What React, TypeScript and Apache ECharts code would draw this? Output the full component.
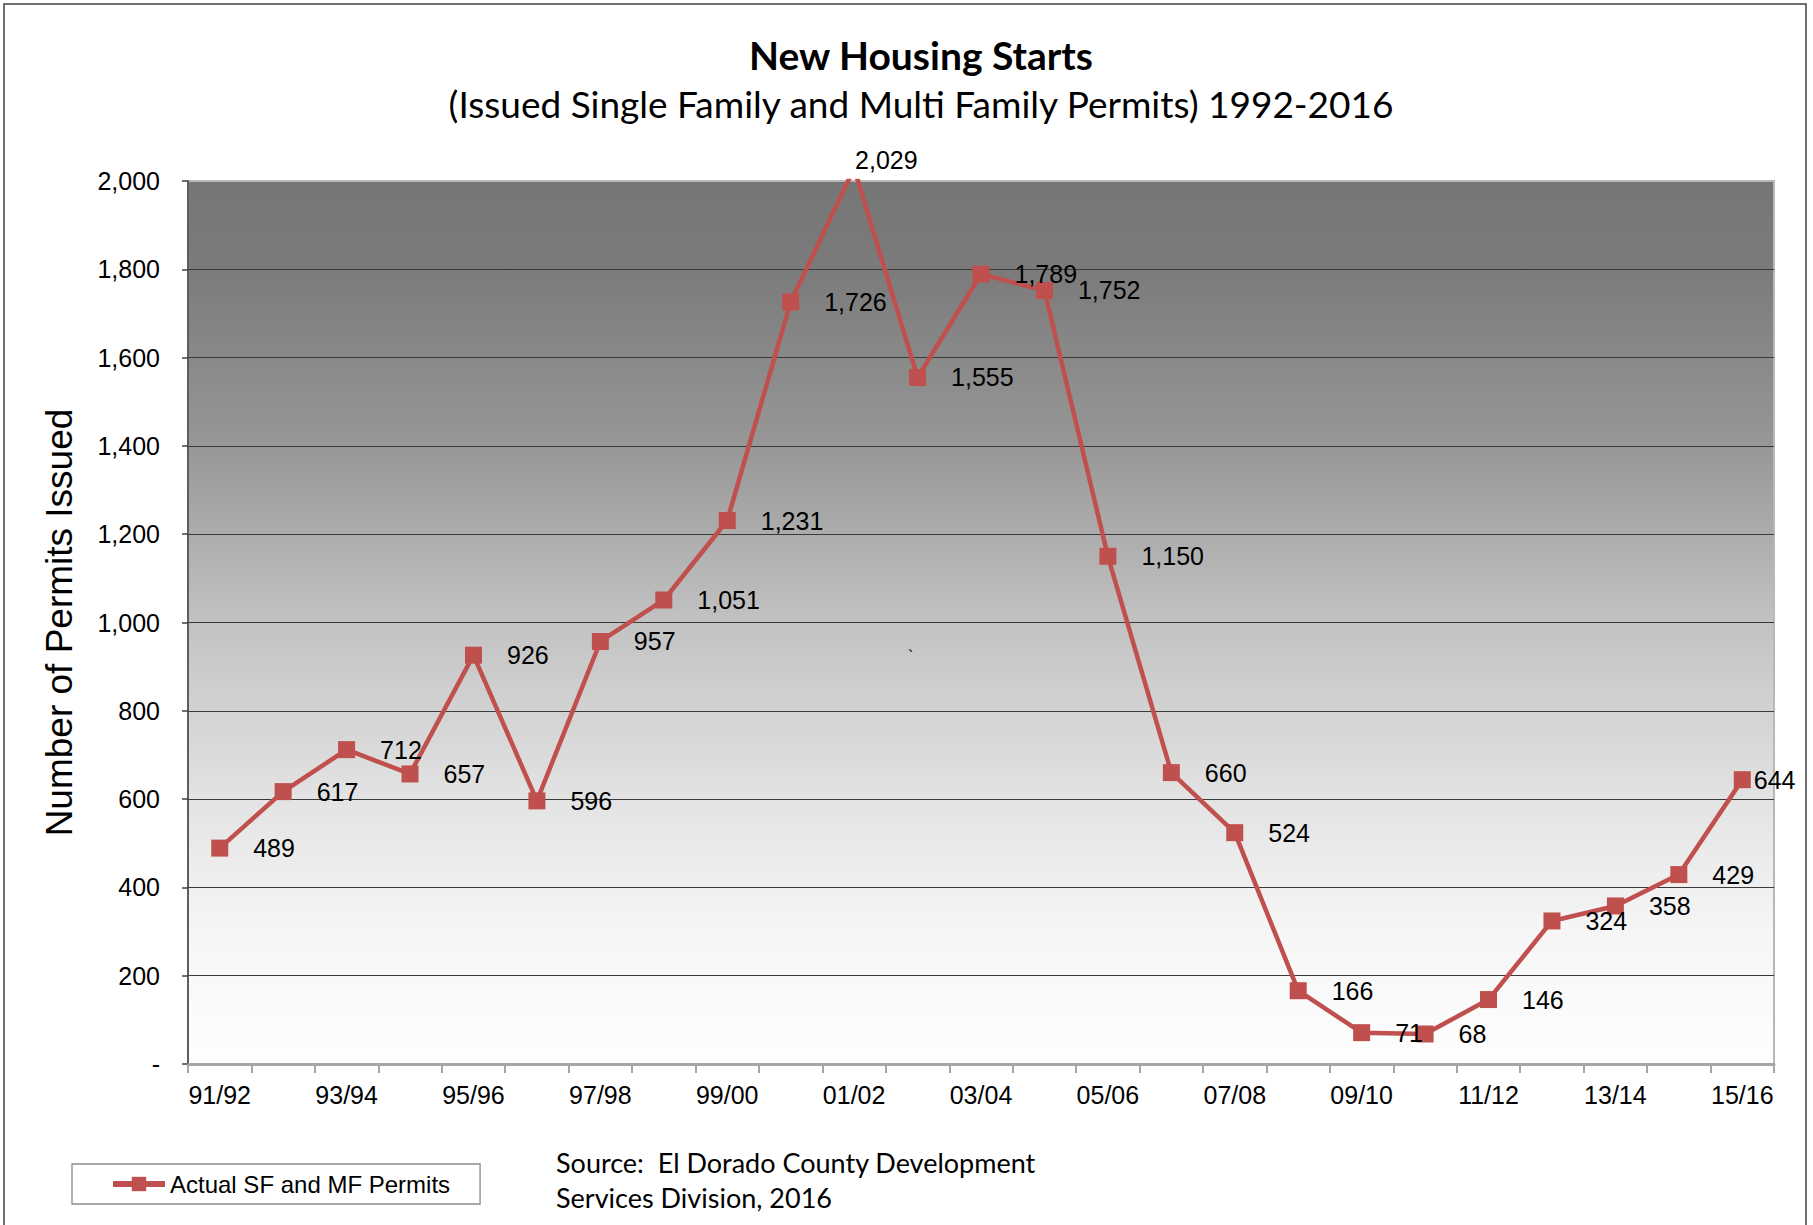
import React, { useEffect, useRef } from "react";
import * as echarts from "echarts";

const categories = [
  "91/92", "92/93", "93/94", "94/95", "95/96", "96/97", "97/98", "98/99", "99/00",
  "00/01", "01/02", "02/03", "03/04", "04/05", "05/06", "06/07", "07/08", "08/09",
  "09/10", "10/11", "11/12", "12/13", "13/14", "14/15", "15/16",
];
const permits = [
  489, 617, 712, 657, 926, 596, 957, 1051, 1231, 1726, 2029, 1555, 1789, 1752,
  1150, 660, 524, 166, 71, 68, 146, 324, 358, 429, 644,
];
const seriesName = "Actual SF and MF Permits";
const titleText = "New Housing Starts";
const subtitleText = "(Issued Single Family and Multi Family Permits) 1992-2016";
const sourceLines = ["Source:  El Dorado County Development", "Services Division, 2016"];
const yAxisTitle = "Number of Permits Issued";

const AXIS_FONT = "'Liberation Sans', Arial, sans-serif";
const TITLE_FONT = "Lato, 'Open Sans', sans-serif";
const fmt = (v: number) => (v === 0 ? "-" : v.toLocaleString("en-US"));

export default function App() {
  const ref = useRef<HTMLDivElement>(null);
  useEffect(() => {
    if (!ref.current) return;
    const chart = echarts.init(ref.current, null, { renderer: "svg" });
    const lastIdx = permits.length - 1;
    const seriesData = permits.map((v, i) =>
      i === lastIdx ? { value: v, label: { distance: 3 } } : v
    );
    const option: any = {
      animation: false,
      backgroundColor: "#ffffff",
      grid: {
        left: 188,
        top: 181,
        right: 39,
        bottom: 161,
        show: true,
        borderColor: "#b8b8b8",
        borderWidth: 2,
        backgroundColor: {
          type: "linear",
          x: 0,
          y: 0,
          x2: 0,
          y2: 1,
          colorStops: [
            { offset: 0, color: "#767676" },
            { offset: 0.1, color: "#7b7b7b" },
            { offset: 0.3, color: "#979797" },
            { offset: 0.5, color: "#c2c2c2" },
            { offset: 0.7, color: "#e3e3e3" },
            { offset: 0.85, color: "#f6f6f6" },
            { offset: 1, color: "#fefefe" },
          ],
        },
      },
      legend: {
        left: 72,
        top: 1164,
        orient: "horizontal",
        borderColor: "#8a8a8a",
        borderWidth: 1.3,
        padding: [8, 30, 8, 38],
        itemWidth: 52,
        itemHeight: 18,
        itemGap: 0,
        lineStyle: { width: 6 },
        textStyle: { fontFamily: AXIS_FONT, fontSize: 24, color: "#000" },
        data: [seriesName],
      },
      xAxis: {
        type: "category",
        data: categories,
        boundaryGap: true,
        axisLine: { show: true, lineStyle: { color: "#a6a6a6", width: 3 } },
        axisTick: { show: true, interval: 0, length: 9, lineStyle: { color: "#a6a6a6", width: 2 } },
        axisLabel: {
          interval: 1,
          margin: 18,
          fontFamily: AXIS_FONT,
          fontSize: 25,
          color: "#000",
        },
        splitLine: { show: false },
      },
      yAxis: {
        type: "value",
        min: 0,
        max: 2000,
        interval: 200,
        name: yAxisTitle,
        nameLocation: "middle",
        nameRotate: 90,
        nameGap: 110,
        nameTextStyle: { fontFamily: AXIS_FONT, fontSize: 37, color: "#000" },
        axisLine: { show: true, lineStyle: { color: "#404040", width: 1.5 } },
        axisTick: { show: true, inside: false, length: 6, lineStyle: { color: "#404040", width: 1.5 } },
        axisLabel: {
          margin: 28,
          fontFamily: AXIS_FONT,
          fontSize: 25,
          color: "#000",
          formatter: fmt,
        },
        splitLine: {
          show: true,
          showMaxLine: false,
          lineStyle: { color: "#3a3a3a", width: 1.2 },
        },
      },
      series: [
        {
          name: seriesName,
          type: "line",
          data: seriesData,
          clip: true,
          color: "#c0504d",
          symbol: "rect",
          symbolSize: 17,
          lineStyle: { color: "#c0504d", width: 4.5 },
          itemStyle: { color: "#c0504d" },
          label: {
            show: true,
            position: "right",
            distance: 25,
            fontFamily: AXIS_FONT,
            fontSize: 25,
            color: "#000",
            formatter: (p: any) => fmt(p.value),
          },
        },
      ],
      graphic: [
        {
          type: "rect",
          shape: { x: 4, y: 4, width: 1802, height: 1240 },
          style: { fill: "none", stroke: "#404040", lineWidth: 1.5 },
          silent: true,
          z: -10,
        },
        {
          type: "text",
          x: 921,
          y: 55,
          style: {
            text: titleText,
            fontFamily: TITLE_FONT,
            fontWeight: "bold",
            fontSize: 39,
            fill: "#000",
            textAlign: "center",
            textVerticalAlign: "middle",
          },
        },
        {
          type: "text",
          x: 921,
          y: 103,
          style: {
            text: subtitleText,
            fontFamily: TITLE_FONT,
            fontSize: 37,
            fill: "#000",
            textAlign: "center",
            textVerticalAlign: "middle",
          },
        },
        {
          type: "text",
          x: 556,
          y: 1162,
          style: {
            text: sourceLines[0],
            fontFamily: TITLE_FONT,
            fontSize: 27,
            fill: "#000",
            textAlign: "left",
            textVerticalAlign: "middle",
          },
        },
        {
          type: "text",
          x: 556,
          y: 1197,
          style: {
            text: sourceLines[1],
            fontFamily: TITLE_FONT,
            fontSize: 27,
            fill: "#000",
            textAlign: "left",
            textVerticalAlign: "middle",
          },
        },
        {
          type: "text",
          x: 908,
          y: 648,
          style: { text: "`", fontFamily: AXIS_FONT, fontSize: 16, fill: "#000" },
        },
      ],
    };
    chart.setOption(option);

    // Label for the point that lies above the axis max (clipped marker)
    const peakIdx = permits.indexOf(Math.max(...permits));
    const px = chart.convertToPixel({ seriesIndex: 0 }, [peakIdx, permits[peakIdx]]) as number[];
    if (px) {
      chart.setOption({
        graphic: [
          ...option.graphic,
          {
            type: "text",
            x: px[0] + 1,
            y: px[1] - 8,
            style: {
              text: fmt(permits[peakIdx]),
              fontFamily: AXIS_FONT,
              fontSize: 25,
              fill: "#000",
              textAlign: "left",
              textVerticalAlign: "middle",
            },
          },
        ],
      });
    }
    return () => chart.dispose();
  }, []);
  return (
    <div
      ref={ref}
      style={{ position: "fixed", left: 0, top: 0, width: 1813, height: 1225 }}
    />
  );
}
